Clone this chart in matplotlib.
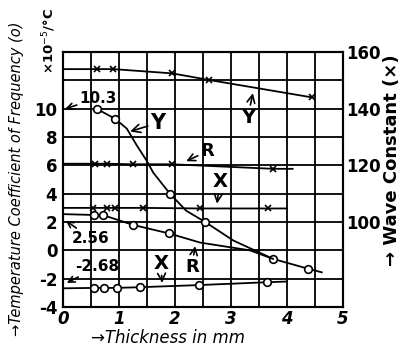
import matplotlib
matplotlib.use("Agg")
import matplotlib.pyplot as plt

# thickness in mm, temperature coefficient (x10^-5/°C) -> circles
y_temp_t = [0.6, 0.93, 1.14, 1.32, 1.5, 1.61, 1.91, 2.2, 2.54, 3.04, 3.75, 4.38, 4.62]
y_temp = [10.0, 9.3, 8.6, 7.4, 6.3, 5.5, 4.0, 2.8, 2.0, 0.7, -0.6, -1.3, -1.55]
y_temp_marks = [0, 1, 6, 8, 10, 11]

r_temp_t = [0.0, 0.55, 0.71, 1.25, 1.89, 2.45, 3.34, 3.75]
r_temp = [2.56, 2.5, 2.5, 1.8, 1.2, 0.55, 0.0, -0.6]
r_temp_marks = [1, 2, 3, 4]

x_temp_t = [0.0, 0.55, 0.74, 0.96, 1.38, 2.43, 3.64, 4.0]
x_temp = [-2.68, -2.65, -2.65, -2.65, -2.6, -2.45, -2.25, -2.2]
x_temp_marks = [1, 2, 3, 4, 5, 6]

# thickness in mm, wave constant -> crosses
y_wave_t = [0.0, 0.6, 0.9, 1.95, 2.6, 4.45]
y_wave = [154, 154, 154, 152.5, 150.2, 144]
r_wave_t = [0.0, 0.57, 0.78, 1.25, 1.95, 3.75, 4.1]
r_wave = [120.6, 120.6, 120.6, 120.4, 120.4, 118.8, 118.8]
x_wave_t = [0.0, 0.54, 0.78, 0.93, 1.43, 2.45, 3.66, 4.0]
x_wave = [105, 105, 105, 105, 105, 104.8, 104.8, 104.8]

x_ticks = [0, 1, 2, 3, 4, 5]
left_ticks = [-4, -2, 0, 2, 4, 6, 8, 10]
right_ticks = [100, 120, 140, 160]

fig = plt.figure(figsize=(4.06, 3.57), dpi=100)
ax = fig.add_axes([0.155, 0.140, 0.690, 0.714])
ax2 = ax.twinx()

ax.set_xlim(0, 5)
ax.set_ylim(-4, 14)
ax2.set_ylim(70, 160)

# grid every 0.5 mm and 2 units
for gx in [i * 0.5 for i in range(1, 10)]:
    ax.axvline(gx, color="black", lw=1.3, zorder=0)
for gy in range(-2, 14, 2):
    ax.axhline(gy, color="black", lw=1.3, zorder=0)
for sp in ax.spines.values():
    sp.set_linewidth(1.5)
for sp in ax2.spines.values():
    sp.set_linewidth(1.5)

circ = dict(color="black", lw=1.3, marker="o", ms=5.5, mfc="white", mec="black", mew=1.2)
ax.plot(y_temp_t, y_temp, markevery=y_temp_marks, **circ)
ax.plot(r_temp_t, r_temp, markevery=r_temp_marks, **circ)
ax.plot(x_temp_t, x_temp, markevery=x_temp_marks, **circ)

cross = dict(color="black", lw=1.3, marker="x", ms=4.5, mew=1.2)
ax2.plot(y_wave_t, y_wave, markevery=slice(1, None), **cross)
ax2.plot(r_wave_t, r_wave, markevery=slice(1, 6), **cross)
ax2.plot(x_wave_t, x_wave, markevery=slice(1, 7), **cross)

tick_font = dict(fontsize=12, fontweight="bold")
ax.set_xticks(x_ticks)
ax.set_xticklabels([str(t) for t in x_ticks], fontstyle="italic", **tick_font)
ax.set_yticks(left_ticks)
ax.set_yticklabels([str(t) for t in left_ticks], **tick_font)
ax2.set_yticks(right_ticks)
ax2.set_yticklabels([str(t) for t in right_ticks], **tick_font)
ax.tick_params(axis="x", length=0, pad=2)
ax.tick_params(axis="y", length=0, pad=4)
ax2.tick_params(length=0, pad=2)

arrow = dict(arrowstyle="->", color="black", lw=1.2, shrinkA=0, shrinkB=0)
lab = dict(fontweight="bold", ha="center", va="center")
ax.annotate("10.3", xy=(0.04, 10.0), xytext=(0.63, 10.75), fontsize=11,
            arrowprops=arrow, **lab)
ax.annotate("Y", xy=(1.2, 8.4), xytext=(1.7, 9.0), fontsize=15,
            arrowprops=arrow, **lab)
ax.annotate("Y", xy=(3.39, 11.1), xytext=(3.3, 9.4), fontsize=14,
            arrowprops=arrow, **lab)
ax.annotate("R", xy=(2.2, 6.3), xytext=(2.58, 7.0), fontsize=13,
            arrowprops=arrow, **lab)
ax.annotate("X", xy=(2.75, 3.3), xytext=(2.8, 4.85), fontsize=14,
            arrowprops=arrow, **lab)
ax.annotate("X", xy=(1.77, -2.3), xytext=(1.75, -0.9), fontsize=14,
            arrowprops=arrow, **lab)
ax.annotate("R", xy=(2.36, 0.3), xytext=(2.3, -1.15), fontsize=13,
            arrowprops=arrow, **lab)
ax.annotate("2.56", xy=(0.05, 2.1), xytext=(0.5, 0.85), fontsize=11,
            arrowprops=arrow, **lab)
ax.annotate("-2.68", xy=(0.07, -2.3), xytext=(0.62, -1.15), fontsize=11,
            arrowprops=arrow, **lab)

fig.text(0.415, 0.052, "\u2192Thickness in mm", fontsize=12, fontstyle="italic",
         ha="center", va="center")
fig.text(0.04, 0.50, "\u2192Temperature Coefficient of Frequency (o)", fontsize=10.5,
         fontstyle="italic", rotation=90, ha="center", va="center")
fig.text(0.12, 0.885, "\u00d710$^{-5}$/\u00b0C", fontsize=9.5, fontweight="bold",
         rotation=90, ha="center", va="center")
fig.text(0.965, 0.55, "\u2192 Wave Constant (\u00d7)", fontsize=13, fontweight="bold",
         rotation=90, ha="center", va="center")

fig.savefig("out.png", dpi=100)
